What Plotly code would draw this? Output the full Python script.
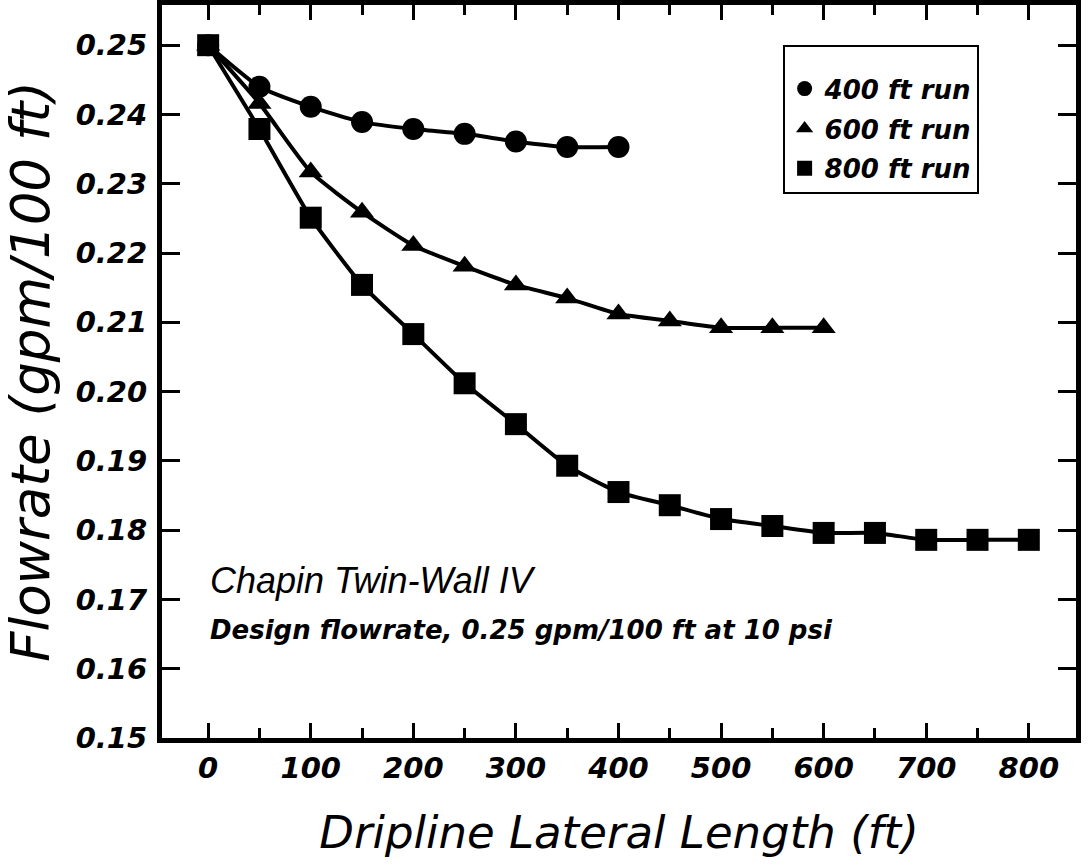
import plotly.graph_objects as go

x400 = [0, 50, 100, 150, 200, 250, 300, 350, 400]
y400 = [0.250, 0.2440, 0.2411, 0.2389, 0.2379, 0.2372, 0.2361, 0.2353, 0.2353]

x600 = [0, 50, 100, 150, 200, 250, 300, 350, 400, 450, 500, 550, 600]
y600 = [0.250, 0.2416, 0.2317, 0.2259, 0.2211, 0.2181, 0.2154, 0.2135, 0.2112, 0.2102, 0.2092, 0.2092, 0.2092]

x800 = [0, 50, 100, 150, 200, 250, 300, 350, 400, 450, 500, 550, 600, 650, 700, 750, 800]
y800 = [0.250, 0.2379, 0.2251, 0.2154, 0.2083, 0.2012, 0.1953, 0.1893, 0.1855, 0.1836, 0.1816, 0.1806, 0.1796, 0.1796, 0.1786, 0.1786, 0.1786]

series_names = ["400 ft run", "600 ft run", "800 ft run"]
xticks = [0, 100, 200, 300, 400, 500, 600, 700, 800]
yticks = [0.15, 0.16, 0.17, 0.18, 0.19, 0.20, 0.21, 0.22, 0.23, 0.24, 0.25]
ytick_labels = ["0.15", "0.16", "0.17", "0.18", "0.19", "0.20", "0.21", "0.22", "0.23", "0.24", "0.25"]

FONT = "DejaVu Sans, Liberation Sans, sans-serif"
HELV = "Liberation Sans, Arial, sans-serif"

fig = go.Figure()
symbols = ["circle", "triangle-up", "square"]
sizes = [22, 21, 22]
data = [(x400, y400), (x600, y600), (x800, y800)]
for (xs, ys), sym, sz, name in zip(data, symbols, sizes, series_names):
    fig.add_trace(go.Scatter(
        x=xs, y=ys, mode="lines+markers", name=name, showlegend=False,
        line=dict(color="black", width=4, shape="spline", smoothing=0.5),
        marker=dict(symbol=sym, size=sz, color="black"),
    ))
for i, (sym, name) in enumerate(zip(symbols, series_names)):
    fig.add_trace(go.Scatter(
        x=[None], y=[None], mode="markers", name=name, showlegend=True,
        legendgroup="g%d" % i,
        marker=dict(symbol=sym, size=15, color="black"),
    ))

fig.update_layout(
    width=1090, height=865,
    margin=dict(l=162, r=14, t=5, b=127, autoexpand=False),
    paper_bgcolor="white", plot_bgcolor="white",
    font=dict(family=FONT, color="black"),
    legend=dict(
        x=0.679, y=0.9454, xanchor="left", yanchor="top",
        bordercolor="black", borderwidth=2, bgcolor="white",
        font=dict(family=FONT, size=26, weight="bold", style="italic", color="black"),
        tracegroupgap=3, itemwidth=30,
        title=dict(text=" ", font=dict(size=14)),
    ),
    annotations=[
        dict(text="Chapin Twin-Wall IV", x=0, y=0.1728, xref="x", yref="y",
             xanchor="left", yanchor="middle", showarrow=False,
             font=dict(family=HELV, size=36, style="italic", color="black")),
        dict(text="Design flowrate, 0.25 gpm/100 ft at 10 psi", x=0, y=0.1656, xref="x", yref="y",
             xanchor="left", yanchor="middle", showarrow=False,
             font=dict(family=FONT, size=26, weight="bold", style="italic", color="black")),
    ],
)

fig.update_xaxes(
    range=[-45, 846], tickvals=xticks, ticktext=[str(v) for v in xticks],
    ticks="inside", ticklen=15, tickwidth=3, tickcolor="black",
    minor=dict(dtick=50, ticks="inside", ticklen=10, tickwidth=3, tickcolor="black"),
    showline=True, linewidth=5, linecolor="black", mirror="allticks",
    showgrid=False, zeroline=False, automargin=False,
    ticklabelstandoff=0,
    tickfont=dict(family=FONT, size=29, weight="bold", style="italic", color="black"),
    title=dict(text="Dripline Lateral Length (ft)", standoff=34,
               font=dict(family=FONT, size=45, style="italic", color="black")),
)
fig.update_yaxes(
    range=[0.15, 0.2558], tickvals=yticks, ticktext=ytick_labels,
    ticks="inside", ticklen=18, tickwidth=3, tickcolor="black",
    showline=True, linewidth=5, linecolor="black", mirror="allticks",
    showgrid=False, zeroline=False, automargin=False,
    ticklabelstandoff=4,
    tickfont=dict(family=FONT, size=29, weight="bold", style="italic", color="black"),
    title=dict(text="Flowrate (gpm/100 ft)", standoff=14,
               font=dict(family=FONT, size=53, style="italic", color="black")),
)

fig.write_html("out.html", config={"displayModeBar": False},
               post_script="document.body.style.margin='0px';")
